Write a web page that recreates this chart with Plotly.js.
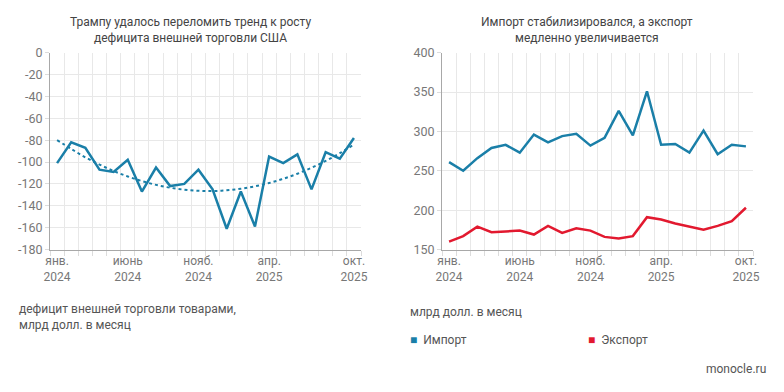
<!DOCTYPE html>
<html><head><meta charset="utf-8">
<script src="https://cdn.plot.ly/plotly-3.0.1.min.js"></script>
<style>html,body{margin:0;padding:0;background:#fff}#chart{width:784px;height:392px}</style>
</head><body><div id="chart"></div>
<script>
// Months Jan 2024 .. Oct 2025
const months = ['янв. 2024','февр. 2024','март 2024','апр. 2024','май 2024','июнь 2024','июль 2024','авг. 2024','сент. 2024','окт. 2024','нояб. 2024','дек. 2024',
  'янв. 2025','февр. 2025','март 2025','апр. 2025','май 2025','июнь 2025','июль 2025','авг. 2025','сент. 2025','окт. 2025'];
const deficit = [-101,-82,-87,-107,-109,-98,-127,-105,-122,-120,-107,-125,-161,-127,-159,-95,-101,-93,-125,-91,-97,-78];
const deficitTrend = [-80,-88,-95.7,-102.3,-108.2,-113.2,-117.4,-120.9,-123.5,-125.3,-126.3,-126.5,-125.9,-124.4,-122.2,-119.2,-115.3,-110.7,-105.2,-99,-91.9,-84];
const imports = [261,250,266,279,283,273,296,286,294,297,282,292,326,295,351,283,284,273,301,271,283,281];
const exports = [160,167,179,172,173,174,169,180,171,177,174,166,164,167,191,188,183,179,175,180,186,203];
const tickIdx = [0,5,10,15,21];
const tickLabels = ['янв.<br>2024','июнь<br>2024','нояб.<br>2024','апр.<br>2025','окт.<br>2025'];
const leftYTicks = [0,-20,-40,-60,-80,-100,-120,-140,-160,-180];
const rightYTicks = [150,200,250,300,350,400];

const xIdx = months.map((m,i)=>i);
const BLUE = '#1a7fa8', RED = '#e2192f';
const FONT = 'Roboto, "Open Sans", sans-serif';
const GRID = '#e8e8e8', AX = '#a8a8a8', TXT = '#777';

const traces = [
  {x:xIdx, y:deficit, xaxis:'x', yaxis:'y', mode:'lines', line:{color:BLUE,width:2.5}, name:'Дефицит', hoverinfo:'y'},
  {x:xIdx, y:deficitTrend, xaxis:'x', yaxis:'y', mode:'lines', line:{color:BLUE,width:2,dash:'dot',shape:'spline'}, name:'Тренд', hoverinfo:'skip'},
  {x:xIdx, y:imports, xaxis:'x2', yaxis:'y2', mode:'lines', line:{color:BLUE,width:2.5}, name:'Импорт'},
  {x:xIdx, y:exports, xaxis:'x2', yaxis:'y2', mode:'lines', line:{color:RED,width:2.5}, name:'Экспорт'}
];

function xAxis(domain, anchor){
  return {domain:domain, anchor:anchor, range:[-0.5,21.5], tickvals:tickIdx, ticktext:tickLabels,
    showgrid:false, ticks:'', zeroline:false, showline:true, linecolor:AX, linewidth:1,
    tickfont:{family:FONT,size:12,color:TXT}, fixedrange:true,
    minor:{tick0:-0.5, dtick:1, showgrid:true, gridcolor:GRID, gridwidth:1, ticks:'outside', ticklen:5, tickcolor:'#dcdcdc'}};
}
function yAxis(domain, anchor, range, vals){
  return {domain:domain, anchor:anchor, range:range, tickvals:vals, ticktext:vals.map(v=>String(v)),
    showgrid:true, gridcolor:GRID, gridwidth:1, zeroline:false, showline:true, linecolor:AX, linewidth:1,
    ticks:'outside', ticklen:4, tickcolor:'#dcdcdc', tickfont:{family:FONT,size:12.5,color:TXT}, fixedrange:true};
}
const yDom = [1-249.5/392, 1-52.7/392];
const layout = {
  width:784, height:392, margin:{l:0,r:0,t:0,b:0}, paper_bgcolor:'#fff', plot_bgcolor:'#fff',
  showlegend:false, font:{family:FONT,color:TXT},
  xaxis: xAxis([50/784, 361/784], 'y'),
  yaxis: yAxis(yDom, 'x', [-180,0], leftYTicks),
  xaxis2: xAxis([442/784, 753/784], 'y2'),
  yaxis2: yAxis(yDom, 'x2', [150,400], rightYTicks),
  annotations:[
    {xref:'paper',yref:'paper',x:190/784,y:1-30/392,text:'Трампу удалось переломить тренд к росту<br>дефицита внешней торговли США',showarrow:false,font:{family:FONT,size:12,color:'#444'},align:'center',xanchor:'center',yanchor:'middle'},
    {xref:'paper',yref:'paper',x:587/784,y:1-30/392,text:'Импорт стабилизировался, а экспорт<br>медленно увеличивается',showarrow:false,font:{family:FONT,size:12,color:'#444'},align:'center',xanchor:'center',yanchor:'middle'},
    {xref:'paper',yref:'paper',x:17/784,y:1-317/392,text:'дефицит внешней торговли товарами,<br>млрд долл. в месяц',showarrow:false,font:{family:FONT,size:12,color:'#555'},align:'left',xanchor:'left',yanchor:'middle'},
    {xref:'paper',yref:'paper',x:408/784,y:1-312/392,text:'млрд долл. в месяц',showarrow:false,font:{family:FONT,size:12,color:'#555'},align:'left',xanchor:'left',yanchor:'middle'},
    {xref:'paper',yref:'paper',x:408/784,y:1-340/392,text:'<span style="color:'+BLUE+'">■</span>  Импорт',showarrow:false,font:{family:FONT,size:12,color:'#555'},align:'left',xanchor:'left',yanchor:'middle'},
    {xref:'paper',yref:'paper',x:586/784,y:1-340/392,text:'<span style="color:'+RED+'">■</span>  Экспорт',showarrow:false,font:{family:FONT,size:12,color:'#555'},align:'left',xanchor:'left',yanchor:'middle'},
    {xref:'paper',yref:'paper',x:768/784,y:1-369/392,text:'monocle.ru',showarrow:false,font:{family:FONT,size:12,color:'#555'},align:'right',xanchor:'right',yanchor:'middle'}
  ]
};
Plotly.newPlot('chart', traces, layout, {displayModeBar:false, staticPlot:true});
</script></body></html>
